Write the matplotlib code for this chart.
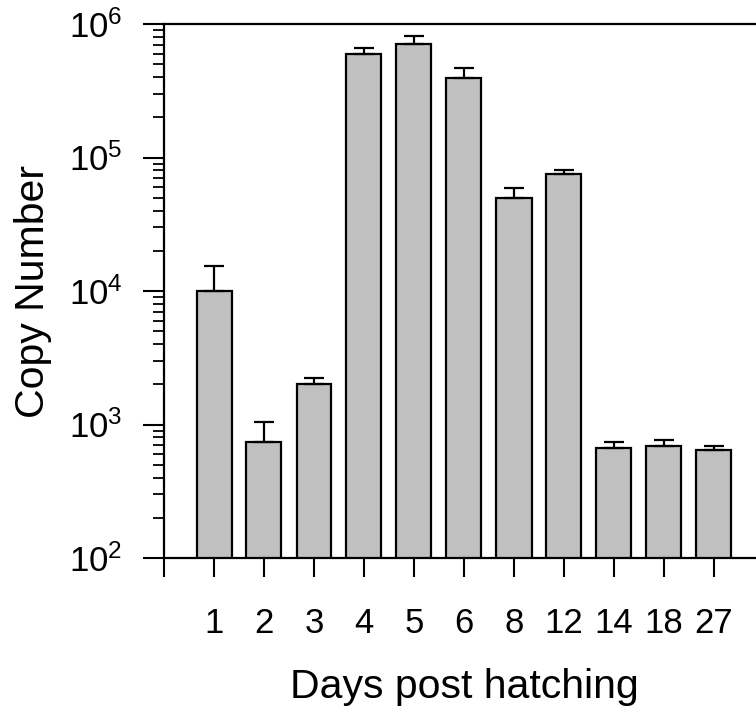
import matplotlib
matplotlib.use("Agg")
import matplotlib.pyplot as plt
import numpy as np

# 폰트 설정
plt.rcParams["font.family"] = ["Liberation Sans", "DejaVu Sans"]
plt.rcParams["mathtext.fontset"] = "custom"
plt.rcParams["mathtext.rm"] = "Liberation Sans"
plt.rcParams["mathtext.it"] = "Liberation Sans:italic"
plt.rcParams["mathtext.bf"] = "Liberation Sans:bold"

days = ["1", "2", "3", "4", "5", "6", "8", "12", "14", "18", "27"]
copy_number = [10000, 740, 2010, 596000, 705000, 392000, 49700, 74800, 662, 686, 640]
err_upper = [5400, 305, 220, 65000, 108000, 74000, 9100, 5400, 73, 74, 46]

fig = plt.figure(figsize=(7.56, 7.11), dpi=100)
ax = fig.add_axes([164 / 756, 1 - 558 / 711, 600 / 756, 534 / 711])
ax.set_yscale("log")

x = np.arange(1, len(days) + 1)
ax.bar(x, copy_number, width=0.7, color="#c0c0c0", edgecolor="black", linewidth=1.6,
       yerr=[np.zeros(len(err_upper)), err_upper],
       error_kw=dict(ecolor="black", elinewidth=1.6, capsize=7, capthick=1.6))

ax.set_ylim(100, 1e6)
ax.set_xlim(0, 12)

for s in ["left", "bottom", "top"]:
    ax.spines[s].set_linewidth(1.6)
ax.spines["right"].set_visible(False)

ax.set_xticks(np.arange(0, len(days) + 1))
ax.set_xticklabels([""] + days)
ax.tick_params(axis="x", direction="out", length=14, width=1.5, pad=21.5, labelsize=25)
ax.tick_params(axis="y", which="major", direction="out", length=15, width=1.5, pad=15, labelsize=25)
ax.tick_params(axis="y", which="minor", direction="out", length=8, width=1.3)

ax.set_ylabel("Copy Number", fontsize=29.5, labelpad=12)
ax.set_xlabel("Days post hatching", fontsize=29.5, labelpad=20)

fig.savefig("out.png", dpi=100)
